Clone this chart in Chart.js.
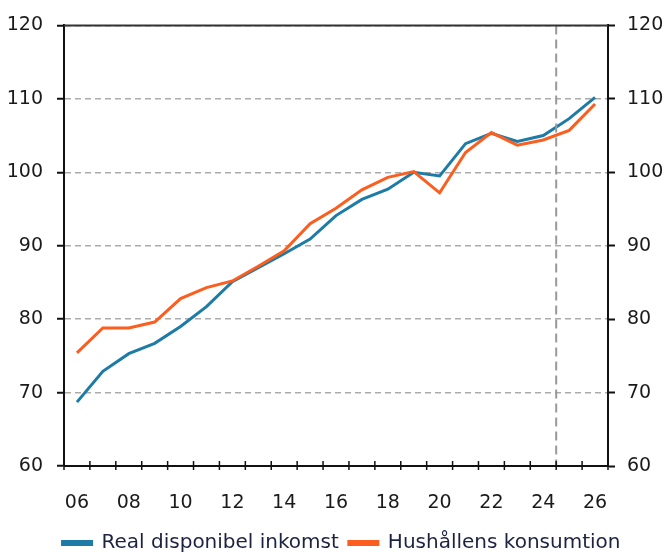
<!DOCTYPE html>
<html>
<head>
<meta charset="utf-8">
<script src="https://cdn.jsdelivr.net/npm/chart.js@4/dist/chart.umd.min.js"></script>
<style>
  html, body { margin: 0; padding: 0; background: #fff; }
  #wrap { width: 669px; height: 552px; }
</style>
</head>
<body>
<div id="wrap"><canvas id="graf"></canvas></div>
<script>
// år 2006-2026, etiketter visas vartannat år
const ar = ["06","07","08","09","10","11","12","13","14","15","16","17","18","19","20","21","22","23","24","25","26"];
const inkomst = [68.7, 72.9, 75.3, 76.7, 79.0, 81.7, 85.1, 87.0, 88.9, 90.9, 94.1, 96.3, 97.7, 100.0, 99.5, 103.9, 105.3, 104.2, 105.0, 107.3, 110.2];
const konsumtion = [75.4, 78.8, 78.8, 79.6, 82.8, 84.3, 85.2, 87.2, 89.3, 93.0, 95.1, 97.6, 99.3, 100.1, 97.2, 102.7, 105.4, 103.7, 104.4, 105.7, 109.3];
const prognosStart = 18.5; // mellan 24 och 25

const blaa = "#1d7ba5";
const orange = "#fb5e1f";
const typsnitt = "'DejaVu Sans', Verdana, sans-serif";

// ramar, x-streck och prognoslinje
const ramPlugin = {
  id: "ram",
  afterDatasetsDraw(chart) {
    const c = chart.ctx;
    const x = chart.scales.x;
    const y = chart.scales.y;
    const a = chart.chartArea;
    c.save();
    // prognoslinje
    const px = x.getPixelForValue(prognosStart);
    c.strokeStyle = "#999";
    c.lineWidth = 2;
    c.setLineDash([9, 5]);
    c.beginPath();
    c.moveTo(px, a.top);
    c.lineTo(px, a.bottom);
    c.stroke();
    c.setLineDash([]);
    // topplinje
    c.strokeStyle = "#333";
    c.lineWidth = 2;
    c.beginPath();
    c.moveTo(a.left, y.getPixelForValue(120));
    c.lineTo(a.right, y.getPixelForValue(120));
    c.stroke();
    // x-axel och streck
    c.strokeStyle = "#111";
    c.beginPath();
    c.moveTo(a.left, a.bottom);
    c.lineTo(a.right, a.bottom);
    c.stroke();
    c.lineWidth = 1.5;
    for (let i = 0; i <= ar.length; i++) {
      const tx = x.getPixelForValue(i - 0.5);
      c.beginPath();
      c.moveTo(tx, a.bottom - 5);
      c.lineTo(tx, a.bottom + 4);
      c.stroke();
    }
    c.restore();
  }
};

new Chart(document.getElementById("graf"), {
  type: "line",
  data: {
    labels: ar,
    datasets: [
      {
        label: "Real disponibel inkomst",
        data: inkomst,
        borderColor: blaa,
        backgroundColor: blaa,
        borderWidth: 3,
        pointRadius: 0,
        tension: 0,
        order: 1
      },
      {
        label: "Hushållens konsumtion",
        data: konsumtion,
        borderColor: orange,
        backgroundColor: orange,
        borderWidth: 3,
        pointRadius: 0,
        tension: 0,
        order: 0
      }
    ]
  },
  options: {
    responsive: true,
    maintainAspectRatio: false,
    animation: false,
    layout: { padding: { top: 23, right: -14, bottom: -11 } },
    plugins: {
      tooltip: { enabled: false },
      legend: {
        position: "bottom",
        labels: {
          boxWidth: 29,
          boxHeight: 3,
          padding: 10,
          color: "#1c2340",
          font: { family: typsnitt, size: 20 },
          sort: function (a, b) { return a.datasetIndex - b.datasetIndex; }
        }
      }
    },
    scales: {
      x: {
        type: "category",
        offset: true,
        grid: { display: false },
        border: { display: false },
        ticks: {
          autoSkip: false,
          maxRotation: 0,
          padding: 18,
          color: "#1a1a1a",
          font: { family: typsnitt, size: 19 },
          callback: function (v, i) { return i % 2 === 0 ? ar[i] : ""; }
        },
        afterFit: function (s) { s.height = 57; }
      },
      y: {
        position: "left",
        min: 60,
        max: 120,
        ticks: { stepSize: 10, padding: 14, color: "#1a1a1a", font: { family: typsnitt, size: 19 } },
        grid: {
          color: "#ababab",
          lineWidth: 1.5,
          tickLength: 7,
          tickColor: "#111",
          tickBorderDash: [],
          tickWidth: 2
        },
        border: { color: "#111", width: 2, dash: [6, 4] },
        afterFit: function (s) { s.width = 64; }
      },
      y2: {
        position: "right",
        min: 60,
        max: 120,
        ticks: { stepSize: 10, padding: 12, color: "#1a1a1a", font: { family: typsnitt, size: 19 } },
        grid: {
          drawOnChartArea: false,
          tickLength: 7,
          tickColor: "#111",
          tickWidth: 2
        },
        border: { color: "#111", width: 2 },
        afterFit: function (s) { s.width = 75; }
      }
    }
  },
  plugins: [ramPlugin]
});
</script>
</body>
</html>
